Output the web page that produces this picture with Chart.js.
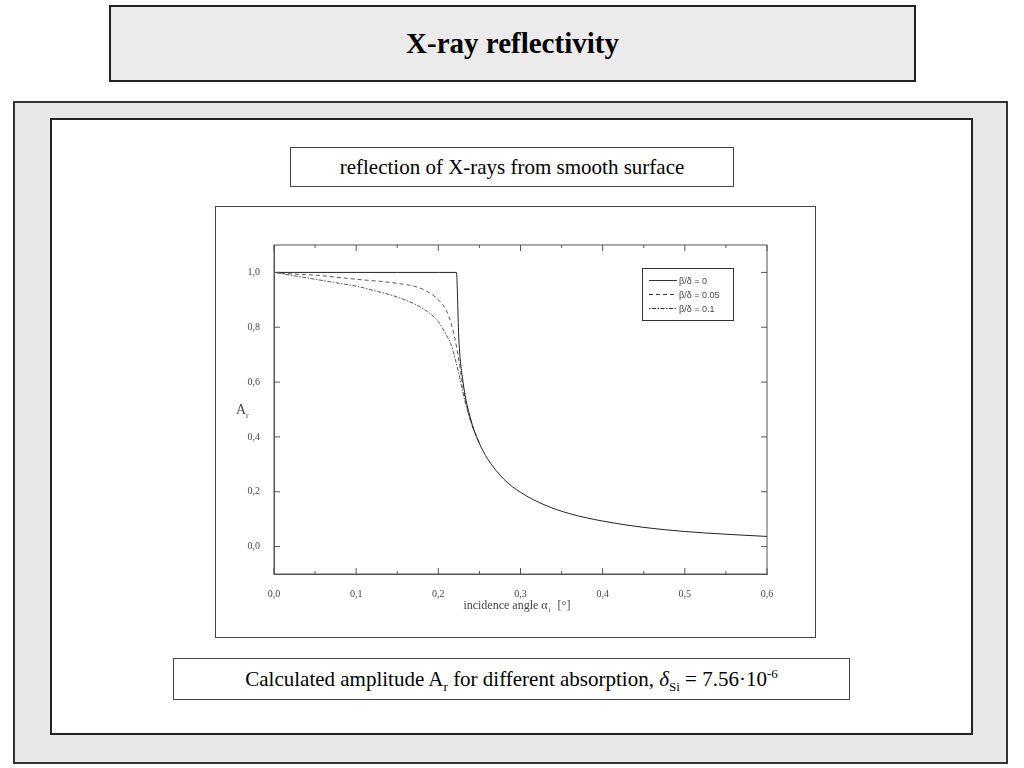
<!DOCTYPE html>
<html><head><meta charset="utf-8">
<script src="https://cdn.jsdelivr.net/npm/chart.js@4"></script>
<style>
body{margin:0;width:1024px;height:768px;background:#fff;position:relative;font-family:"Liberation Serif","DejaVu Serif",serif;overflow:hidden}
.b{position:absolute;box-sizing:border-box}
sub,sup{line-height:0}
</style></head><body>
<div class="b" style="left:109px;top:5px;width:807px;height:77px;background:#ebebeb;border:2px solid #222;text-align:center;line-height:73px;font-size:29px;font-weight:bold">X-ray reflectivity</div>
<div class="b" style="left:13px;top:101px;width:995px;height:663px;background:#e8e8e8;border:2px solid #333"></div>
<div class="b" style="left:50px;top:118px;width:923px;height:617px;background:#fff;border:2px solid #222"></div>
<div class="b" style="left:290px;top:147px;width:444px;height:40px;border:1px solid #444;text-align:center;line-height:38px;font-size:21px">reflection of X-rays from smooth surface</div>
<div class="b" style="left:215px;top:206px;width:601px;height:432px;border:1px solid #444"></div>
<div class="b" style="left:173px;top:658px;width:677px;height:42px;border:1px solid #444;text-align:center;line-height:40px;font-size:21px">Calculated amplitude A<sub style="font-size:13px">r</sub> for different absorption, <i>δ</i><sub style="font-size:13px">Si</sub> = 7.56·10<sup style="font-size:13px">-6</sup></div>
<div class="b" style="left:216px;top:207px;width:599px;height:430px"><canvas id="c" width="599" height="430"></canvas></div>
<script>
const xs0=[0,0.05,0.1,0.15,0.2,0.222,0.225,0.23,0.24,0.25,0.26,0.28,0.3,0.33,0.36,0.4,0.45,0.5,0.55,0.6];
const ys0=[1,1,1,1,1,1,0.755,0.602,0.458,0.376,0.32,0.245,0.198,0.151,0.12,0.093,0.07,0.055,0.045,0.037];
const xs1=[0,0.02,0.05,0.1,0.15,0.18,0.2,0.21,0.215,0.22,0.225,0.23,0.235,0.24,0.25];
const ys1=[1,0.995,0.99,0.975,0.96,0.94,0.9,0.86,0.82,0.76,0.68,0.58,0.51,0.455,0.376];
const xs2=[0,0.02,0.05,0.08,0.1,0.12,0.15,0.18,0.2,0.21,0.215,0.22,0.225,0.23,0.235,0.24,0.25];
const ys2=[1,0.99,0.975,0.96,0.95,0.935,0.91,0.87,0.82,0.77,0.74,0.69,0.63,0.56,0.5,0.45,0.376];
const labels=["β/δ = 0","β/δ = 0.05","β/δ = 0.1"];
const xTicks=[0,0.1,0.2,0.3,0.4,0.5,0.6], yTicks=[0,0.2,0.4,0.6,0.8,1.0];
const pts=(a,b)=>a.map((x,i)=>({x,y:b[i]}));
const dashes=[[],[4,3],[1.5,1.5,4,1.5]];
const frame={id:'frame',afterDraw(ch){
 const c=ch.ctx,a=ch.chartArea,sx=ch.scales.x,sy=ch.scales.y;
 c.save();c.strokeStyle='#555';c.lineWidth=1;c.strokeRect(a.left,a.top,a.right-a.left,a.bottom-a.top);
 for(let k=0;k<=12;k++){const v=k*0.05,p=sx.getPixelForValue(v),L=(k%2==0)?6:3;
  c.beginPath();c.moveTo(p,a.bottom);c.lineTo(p,a.bottom-L);c.moveTo(p,a.top);c.lineTo(p,a.top+L);c.stroke();}
 for(const v of yTicks){const p=sy.getPixelForValue(v);c.beginPath();c.moveTo(a.left,p);c.lineTo(a.left+6,p);c.moveTo(a.right,p);c.lineTo(a.right-6,p);c.stroke();}
 c.fillStyle='#444';c.textAlign='left';
 c.font='12px "Liberation Serif"';
 const t='incidence angle α',w=c.measureText(t).width;const x0=(a.left+a.right)/2-(w+30)/2;
 c.fillText(t,x0,402);c.font='7px "Liberation Serif"';c.fillText('i',x0+w+1,405);
 c.font='12px "Liberation Serif"';c.fillText('[°]',x0+w+10,402);
 c.font='14px "Liberation Serif"';c.fillText('A',20,207);
 c.font='8px "Liberation Serif"';c.fillText('r',30,211);
 c.restore();
}};
const leg={id:'leg',afterDraw(ch){
 const c=ch.ctx;c.save();c.strokeStyle='#333';c.lineWidth=1;c.strokeRect(426.5,61.5,91,52);
 c.font='9px "Liberation Sans"';c.fillStyle='#444';
 labels.forEach((t,i)=>{const y=73.5+i*14;c.setLineDash(dashes[i]);c.beginPath();c.moveTo(433,y);c.lineTo(461,y);c.stroke();c.setLineDash([]);c.fillText(t,463,y+3);});
 c.restore();
}};
new Chart(document.getElementById('c'),{type:'scatter',
 data:{datasets:[ys0,ys1,ys2].map((ys,i)=>({label:labels[i],data:pts([xs0,xs1,xs2][i],ys),showLine:true,pointRadius:0,borderColor:i?'#444':'#222',borderWidth:i?0.9:1,borderDash:dashes[i],cubicInterpolationMode:'monotone'}))},
 options:{responsive:false,animation:false,layout:{padding:{top:38,right:48,left:0,bottom:0}},
  plugins:{legend:{display:false},tooltip:{enabled:false}},
  scales:{
   x:{type:'linear',min:0,max:0.6,grid:{display:false},border:{color:'#555'},afterFit(s){s.height=63},
      afterBuildTicks(s){s.ticks=xTicks.map(v=>({value:v}))},
      ticks:{color:'#444',padding:6,maxRotation:0,font:{family:'Liberation Serif',size:10},callback:v=>v.toFixed(1).replace('.',',')}},
   y:{min:-0.1,max:1.1,grid:{display:false},border:{color:'#555'},afterFit(s){s.width=58},
      afterBuildTicks(s){s.ticks=yTicks.map(v=>({value:v}))},
      ticks:{color:'#444',padding:6,font:{family:'Liberation Serif',size:10},callback:v=>v.toFixed(1).replace('.',',')}}
  }},
 plugins:[frame,leg]});
</script>
</body></html>
